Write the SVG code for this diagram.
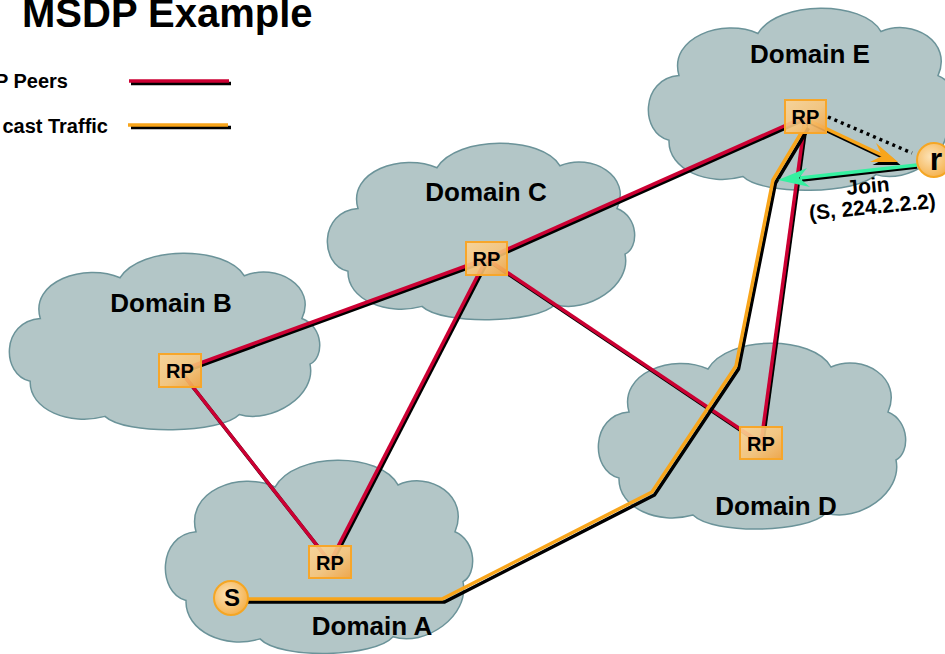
<svg xmlns="http://www.w3.org/2000/svg" xmlns:xlink="http://www.w3.org/1999/xlink" width="945" height="654" viewBox="0 0 945 654">
<style>
.cloud{fill:#b3c6c7;stroke:#6b9399;stroke-width:1.5;vector-effect:non-scaling-stroke}
.dl{font-family:"Liberation Sans",Arial,sans-serif;font-weight:bold;font-size:26px;text-anchor:middle;fill:#000}
.rpbox{fill:url(#rpg);stroke:#f7a62a;stroke-width:2}
.rpt{font-family:"Liberation Sans",Arial,sans-serif;font-weight:bold;font-size:20px;text-anchor:middle;fill:#000}
.host{fill:url(#hg);stroke:#f5a623;stroke-width:2}
.peer{stroke:#cc0033;stroke-width:3.5;fill:none}
.sh{stroke:#000;stroke-width:3.5;fill:none}
.traf{stroke:#f8a51b;stroke-width:3.5;fill:none;stroke-linejoin:miter}
.lbl{font-family:"Liberation Sans",Arial,sans-serif;font-weight:bold;fill:#000}
</style>
<defs>
<path id="cloud" class="cloud" d="M31,69 C20,30 75,10 110,26 C130,-8 215,-8 233,24 C265,10 305,35 290,69 C312,78 312,110 298,117 C305,150 260,180 228,170 C210,190 115,192 95,172 C60,182 20,165 21,135 C-8,128 -8,72 31,69 Z"/>
<linearGradient id="rpg" x1="0" y1="0" x2="1" y2="1">
<stop offset="0" stop-color="#fbd497" stop-opacity="0.92"/>
<stop offset="0.55" stop-color="#f8c57a" stop-opacity="0.9"/>
<stop offset="1" stop-color="#f2a443" stop-opacity="0.92"/>
</linearGradient>
<radialGradient id="hg" cx="0.4" cy="0.4" r="0.65">
<stop offset="0" stop-color="#fce3b8"/>
<stop offset="1" stop-color="#f5b04a"/>
</radialGradient>
</defs>

<text class="lbl" x="22" y="27" font-size="40">MSDP Example</text>
<text class="lbl" x="68" y="88" font-size="20" text-anchor="end">P Peers</text>
<text class="lbl" x="108" y="133" font-size="20" text-anchor="end">cast Traffic</text>
<g id="legend">
<line class="sh" x1="131" y1="83.5" x2="231" y2="83.5"/>
<line class="peer" x1="129" y1="81" x2="229" y2="81"/>
<line class="sh" x1="131" y1="127.5" x2="231" y2="127.5"/>
<line class="traf" x1="128" y1="125" x2="228" y2="125"/>
</g>

<g id="domain-e"><use xlink:href="#cloud" href="#cloud" transform="translate(648,8) scale(1,0.98)"/><text class="dl" x="810" y="63">Domain E</text></g>
<g id="domain-c"><use xlink:href="#cloud" href="#cloud" transform="translate(327,143) scale(1,0.95)"/><text class="dl" x="486" y="201">Domain C</text></g>
<g id="domain-b"><use xlink:href="#cloud" href="#cloud" transform="translate(9,253) scale(1.01,0.95)"/><text class="dl" x="171" y="312">Domain B</text></g>
<g id="domain-d"><use xlink:href="#cloud" href="#cloud" transform="translate(598,343) scale(1,1)"/><text class="dl" x="776" y="515">Domain D</text></g>
<g id="domain-a"><use xlink:href="#cloud" href="#cloud" transform="translate(165,460) scale(1,1.04)"/><text class="dl" x="372" y="635">Domain A</text></g>

<g id="connectors">
<g transform="translate(1.5,2)">
<line class="sh" x1="180" y1="370.5" x2="486.5" y2="258.5"/>
<line class="sh" x1="486.5" y1="258.5" x2="805.5" y2="116.5"/>
<line class="sh" x1="180" y1="370.5" x2="330" y2="562"/>
<line class="sh" x1="486.5" y1="258.5" x2="330" y2="562"/>
<line class="sh" x1="486.5" y1="258.5" x2="761" y2="443"/>
<line class="sh" x1="805.5" y1="116.5" x2="761" y2="443"/>
</g>
<line class="peer" x1="180" y1="370.5" x2="486.5" y2="258.5"/>
<line class="peer" x1="486.5" y1="258.5" x2="805.5" y2="116.5"/>
<line class="peer" x1="180" y1="370.5" x2="330" y2="562"/>
<line class="peer" x1="486.5" y1="258.5" x2="330" y2="562"/>
<line class="peer" x1="486.5" y1="258.5" x2="761" y2="443"/>
<line class="peer" x1="805.5" y1="116.5" x2="761" y2="443"/>
<g transform="translate(2.5,3)">
<polyline class="sh" points="231,599 442,599 652,492 736,366 773,180 806,125"/>
<line class="sh" x1="808" y1="120" x2="884" y2="156"/>
<polygon points="898,162 876,143 882,156 870,162" fill="#000"/>
</g>
<polyline class="traf" points="231,599 442,599 652,492 736,366 773,180 806,125"/>
<line class="traf" x1="808" y1="120" x2="884" y2="156"/>
<polygon points="898,162 876,143 882,156 870,162" fill="#f8a51b"/>
<line x1="828" y1="117" x2="912" y2="153" stroke="#000" stroke-width="3.5" stroke-dasharray="3 4"/>
<line x1="917" y1="167" x2="802" y2="180" stroke="#000" stroke-width="3.5"/>
<line x1="917" y1="165" x2="800" y2="178" stroke="#35f0a0" stroke-width="3.5"/>
<polygon points="778,180 807,168 799,178 810,187" fill="#35f0a0"/>
</g>

<g id="rp-e"><rect class="rpbox" x="785" y="100" width="41" height="33"/><text class="rpt" x="805.5" y="124">RP</text></g>
<g id="rp-c"><rect class="rpbox" x="466" y="242" width="41" height="33"/><text class="rpt" x="486.5" y="266">RP</text></g>
<g id="rp-b"><rect class="rpbox" x="159" y="354" width="42" height="33"/><text class="rpt" x="180" y="378">RP</text></g>
<g id="rp-d"><rect class="rpbox" x="740" y="427" width="42" height="32"/><text class="rpt" x="761" y="451">RP</text></g>
<g id="rp-a"><rect class="rpbox" x="309" y="546" width="42" height="32"/><text class="rpt" x="330" y="570">RP</text></g>

<g id="source-s"><circle class="host" cx="231" cy="598" r="17"/><text class="lbl" x="232" y="606" font-size="24" text-anchor="middle">S</text></g>
<g id="receiver-r"><circle class="host" cx="934" cy="160" r="17"/><text class="lbl" x="936" y="170" font-size="32" text-anchor="middle">r</text></g>

<g id="join-label">
<text class="lbl" x="868.5" y="193" font-size="21" text-anchor="middle" transform="rotate(-5.5 868.5 193)">Join</text>
<text class="lbl" x="873" y="214" font-size="21" text-anchor="middle" transform="rotate(-5.5 873 214)">(S, 224.2.2.2)</text>
</g>
</svg>
